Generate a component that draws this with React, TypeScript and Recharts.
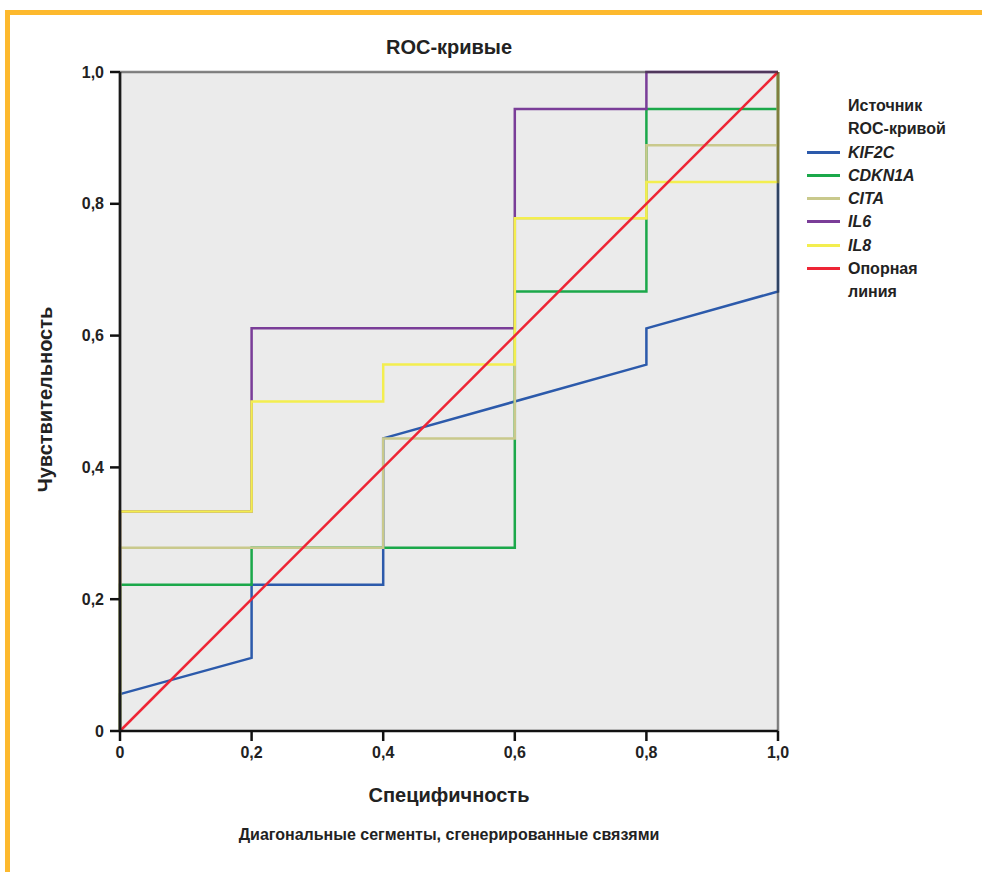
import { LineChart, Line, XAxis, YAxis, CartesianGrid, ReferenceLine } from "recharts";

const kif2c = [
  { x: 0, y: 0 }, { x: 0, y: 0.056 }, { x: 0.2, y: 0.111 }, { x: 0.2, y: 0.222 },
  { x: 0.4, y: 0.222 }, { x: 0.4, y: 0.444 }, { x: 0.8, y: 0.556 }, { x: 0.8, y: 0.611 },
  { x: 1, y: 0.667 }, { x: 1, y: 1 },
];
const cdkn1a = [
  { x: 0, y: 0 }, { x: 0, y: 0.222 }, { x: 0.2, y: 0.222 }, { x: 0.2, y: 0.278 },
  { x: 0.6, y: 0.278 }, { x: 0.6, y: 0.667 }, { x: 0.8, y: 0.667 }, { x: 0.8, y: 0.944 },
  { x: 1, y: 0.944 }, { x: 1, y: 1 },
];
const cita = [
  { x: 0, y: 0 }, { x: 0, y: 0.278 }, { x: 0.4, y: 0.278 }, { x: 0.4, y: 0.444 },
  { x: 0.6, y: 0.444 }, { x: 0.6, y: 0.778 }, { x: 0.8, y: 0.778 }, { x: 0.8, y: 0.889 },
  { x: 1, y: 0.889 }, { x: 1, y: 1 },
];
const il6 = [
  { x: 0, y: 0 }, { x: 0, y: 0.333 }, { x: 0.2, y: 0.333 }, { x: 0.2, y: 0.611 },
  { x: 0.6, y: 0.611 }, { x: 0.6, y: 0.944 }, { x: 0.8, y: 0.944 }, { x: 0.8, y: 1 },
  { x: 1, y: 1 },
];
const il8 = [
  { x: 0, y: 0 }, { x: 0, y: 0.333 }, { x: 0.2, y: 0.333 }, { x: 0.2, y: 0.5 },
  { x: 0.4, y: 0.5 }, { x: 0.4, y: 0.556 }, { x: 0.6, y: 0.556 }, { x: 0.6, y: 0.778 },
  { x: 0.8, y: 0.778 }, { x: 0.8, y: 0.833 }, { x: 1, y: 0.833 }, { x: 1, y: 1 },
];
const reference = [{ x: 0, y: 0 }, { x: 1, y: 1 }];

const ticks = [0, 0.2, 0.4, 0.6, 0.8, 1];

const series = [
  { name: "KIF2C", data: kif2c, color: "#2c5aab", italic: true },
  { name: "CDKN1A", data: cdkn1a, color: "#1ba84a", italic: true },
  { name: "CITA", data: cita, color: "#c9c98c", italic: true },
  { name: "IL6", data: il6, color: "#7a3d98", italic: true },
  { name: "IL8", data: il8, color: "#f3ee4f", italic: true },
  { name: "Опорная линия", data: reference, color: "#ee2535", italic: false },
];

const font = "'Liberation Sans', Arial, sans-serif";
const fmt = (v: number) => (v === 0 ? "0" : v.toFixed(1).replace(".", ","));

const tickStyle = { fontSize: 16, fontWeight: 700, fill: "#222", fontFamily: font };

export default function App() {
  return (
    <div style={{ position: "relative", width: 982, height: 872, background: "#fff", fontFamily: font, color: "#222" }}>
      <style>{"body{margin:0}"}</style>
      <div style={{ position: "absolute", left: 5, top: 10, width: 977, height: 5, background: "#fdb92e" }} />
      <div style={{ position: "absolute", left: 5, top: 10, width: 5, height: 862, background: "#fdb92e" }} />

      <div style={{ position: "absolute", left: 0, top: 0 }}>
        <LineChart width={982} height={872} margin={{ top: 72, right: 204, bottom: 111, left: 60 }}>
          <CartesianGrid fill="#ebebeb" horizontal={false} vertical={false} />
          <XAxis
            dataKey="x"
            type="number"
            domain={[0, 1]}
            ticks={ticks}
            tickFormatter={fmt}
            height={30}
            tickSize={10}
            tickMargin={6}
            axisLine={{ stroke: "#111", strokeWidth: 2.5 }}
            tickLine={{ stroke: "#111", strokeWidth: 2.5 }}
            tick={tickStyle}
          />
          <YAxis
            type="number"
            domain={[0, 1]}
            ticks={ticks}
            tickFormatter={fmt}
            width={60}
            tickSize={10}
            tickMargin={6}
            axisLine={{ stroke: "#111", strokeWidth: 2.5 }}
            tickLine={{ stroke: "#111", strokeWidth: 2.5 }}
            tick={tickStyle}
          />
          {series.map((s) => (
            <Line
              key={s.name}
              data={s.data}
              dataKey="y"
              type="linear"
              stroke={s.color}
              strokeWidth={2.5}
              dot={false}
              activeDot={false}
              isAnimationActive={false}
            />
          ))}
          <ReferenceLine y={1} stroke="#333" strokeOpacity={0.6} strokeWidth={2.5} zIndex={800} />
          <ReferenceLine x={1} stroke="#333" strokeOpacity={0.6} strokeWidth={2.5} zIndex={800} />
          <ReferenceLine x={0} stroke="#222" strokeOpacity={0.6} strokeWidth={2.5} zIndex={800} />
        </LineChart>
      </div>

      <div style={{ position: "absolute", left: 120, width: 658, top: 36, textAlign: "center", fontSize: 20, fontWeight: 700 }}>
        ROC-кривые
      </div>
      <div style={{ position: "absolute", left: 120, width: 658, top: 784, textAlign: "center", fontSize: 20, fontWeight: 700 }}>
        Специфичность
      </div>
      <div style={{ position: "absolute", left: 120, width: 658, top: 826, textAlign: "center", fontSize: 16, fontWeight: 700 }}>
        Диагональные сегменты, сгенерированные связями
      </div>
      <div
        style={{
          position: "absolute", left: 45, top: 400, width: 300, marginLeft: -150, marginTop: -12,
          textAlign: "center", fontSize: 20, fontWeight: 700, transform: "rotate(-90deg)",
        }}
      >
        Чувствительность
      </div>

      <div style={{ position: "absolute", left: 807, top: 94, fontSize: 16, fontWeight: 700, lineHeight: "23.3px" }}>
        <div style={{ paddingLeft: 41 }}>Источник</div>
        <div style={{ paddingLeft: 41 }}>ROC-кривой</div>
        {series.map((s) => (
          <div key={s.name} style={{ display: "flex", alignItems: "flex-start" }}>
            <svg width={33} height={23} style={{ flex: "none" }}>
              <line x1={0} x2={33} y1={11.5} y2={11.5} stroke={s.color} strokeWidth={3} />
            </svg>
            <div style={{ paddingLeft: 8, fontStyle: s.italic ? "italic" : "normal", width: 100 }}>
              {s.name === "Опорная линия" ? (<>Опорная<br />линия</>) : s.name}
            </div>
          </div>
        ))}
      </div>
    </div>
  );
}
